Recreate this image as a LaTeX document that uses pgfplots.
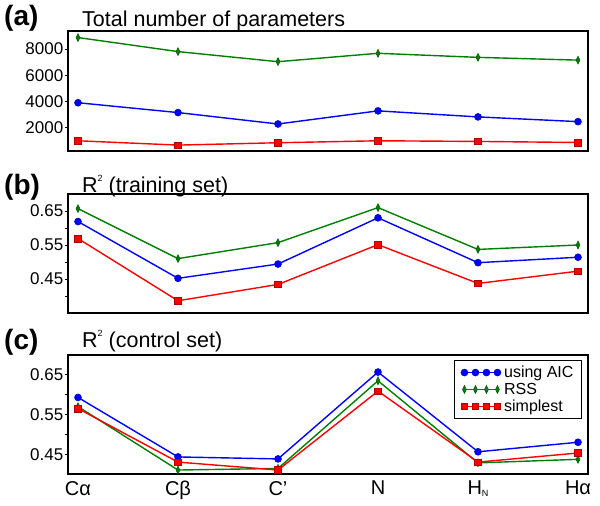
\documentclass[border=0pt]{standalone}
\usepackage{fontspec}
\setmainfont{Liberation Sans}
\usepackage{pgfplots}
\pgfplotsset{compat=1.18}
\definecolor{cb}{rgb}{0,0,1}
\definecolor{cg}{rgb}{0,0.5,0}
\definecolor{cr}{rgb}{1,0,0}
\pgfplotsset{
  panel/.style={
    scale only axis, width=520pt, height=119pt,
    xmin=-0.1, xmax=5.1, xtick={0,1,2,3,4,5},
    xtick style={draw=none},
    axis line style={line width=1.6pt},
    tick align=outside, ytick pos=left,
    major tick length=3.5pt,
    ytick style={line width=0.8pt, black},
    yticklabel style={font=\fontsize{17}{18}\selectfont, inner sep=0pt, xshift=-1pt},
    xticklabel style={font=\fontsize{20}{22}\selectfont},
    legend image code/.code={\draw[##1] plot coordinates {(0pt,0pt) (11pt,0pt) (22pt,0pt) (33pt,0pt)}; \path (-2pt,0pt) (37pt,0pt);},
  },
  sb/.style={cb, line width=1.4pt, mark=*, mark size=3.5pt, mark options={fill=cb, draw=cb!70!black, line width=0.5pt}},
  sg/.style={cg, line width=1.4pt, mark=diamond*, mark size=4pt, mark options={xscale=0.65, fill=cg, draw=cg!70!black, line width=0.5pt}},
  sr/.style={cr, line width=1.4pt, mark=square*, mark size=3.3pt, mark options={fill=cr, draw=cr!70!black, line width=0.5pt}},
}
\begin{document}
\begin{tikzpicture}
\useasboundingbox (0,0) rectangle (600pt,-506pt);
% titles
\node[anchor=base west, inner sep=0pt, font=\fontsize{28}{30}\selectfont\bfseries] at (4pt,-25.5pt) {(a)};
\node[anchor=base west, inner sep=0pt, font=\fontsize{21.5}{24}\selectfont] at (82pt,-26.5pt) {Total number of parameters};
\node[anchor=base west, inner sep=0pt, font=\fontsize{28}{30}\selectfont\bfseries] at (4pt,-194pt) {(b)};
\node[anchor=base west, inner sep=0pt, font=\fontsize{21.5}{24}\selectfont] at (82pt,-192pt) {R\raisebox{0.95ex}{\fontsize{9}{9}\selectfont 2} (training set)};
\node[anchor=base west, inner sep=0pt, font=\fontsize{28}{30}\selectfont\bfseries] at (4pt,-349pt) {(c)};
\node[anchor=base west, inner sep=0pt, font=\fontsize{21.5}{24}\selectfont] at (82pt,-347pt) {R\raisebox{0.95ex}{\fontsize{9}{9}\selectfont 2} (control set)};

% (a)
\begin{axis}[panel, at={(68pt,-31pt)}, anchor=north west, height=120pt,
  ymin=220, ymax=9370,
  ytick={2000,4000,6000,8000}, yticklabels={2000,4000,6000,8000},
  xticklabels={}]
\addplot[sb] coordinates {(0,3900) (1,3150) (2,2280) (3,3280) (4,2820) (5,2460)};
\addplot[sg] coordinates {(0,8870) (1,7800) (2,7030) (3,7670) (4,7360) (5,7150)};
\addplot[sr] coordinates {(0,1000) (1,670) (2,850) (3,1000) (4,950) (5,870)};
\end{axis}

% (b)
\begin{axis}[panel, at={(68pt,-194pt)}, anchor=north west,
  ymin=0.35, ymax=0.70,
  ytick={0.40,0.45,0.50,0.55,0.60,0.65}, yticklabels={,0.45,,0.55,,0.65},
  xticklabels={}]
\addplot[sb] coordinates {(0,0.619) (1,0.452) (2,0.494) (3,0.630) (4,0.498) (5,0.514)};
\addplot[sg] coordinates {(0,0.657) (1,0.510) (2,0.557) (3,0.660) (4,0.537) (5,0.550)};
\addplot[sr] coordinates {(0,0.569) (1,0.386) (2,0.434) (3,0.551) (4,0.437) (5,0.473)};
\end{axis}

% (c)
\begin{axis}[panel, at={(68pt,-355pt)}, anchor=north west,
  ymin=0.40, ymax=0.70,
  ytick={0.45,0.50,0.55,0.60,0.65}, yticklabels={0.45,,0.55,,0.65},
  xticklabels={Cα,Cβ,C’,N,H\raisebox{-2pt}{\fontsize{9}{9}\selectfont N},Hα},
  legend style={at={(1,1)}, anchor=north east, xshift=-6pt, yshift=-5pt,
    draw=black, line width=1pt, font=\fontsize{16}{18}\selectfont,
    inner xsep=6pt, inner ysep=3.5pt, row sep=0pt, cells={anchor=west}},
  legend cell align=left]
\addplot[sb] coordinates {(0,0.593) (1,0.443) (2,0.438) (3,0.657) (4,0.456) (5,0.480)};
\addlegendentry{using AIC}
\addplot[sg] coordinates {(0,0.570) (1,0.410) (2,0.414) (3,0.635) (4,0.428) (5,0.437)};
\addlegendentry{RSS}
\addplot[sr] coordinates {(0,0.565) (1,0.430) (2,0.410) (3,0.609) (4,0.430) (5,0.453)};
\addlegendentry{simplest}
\end{axis}
\end{tikzpicture}
\end{document}
